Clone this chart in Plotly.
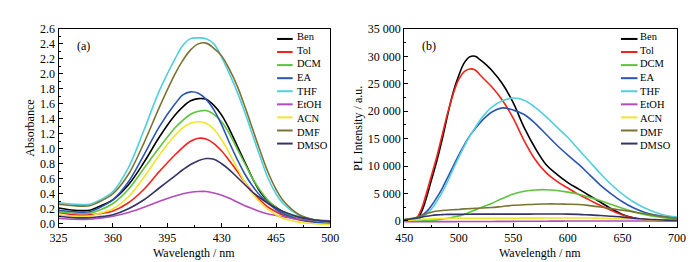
import plotly.graph_objects as go

# ---------------- Panel (a): absorbance ----------------
wl_a = [325, 335, 345, 350, 360, 370, 380, 390, 400, 405, 410, 415, 420, 425,
        430, 435, 440, 445, 450, 455, 460, 465, 470, 480, 490, 500]

abs_ben  = [0.21, 0.18, 0.18, 0.22, 0.32, 0.52, 0.82, 1.16, 1.45, 1.56, 1.64, 1.67, 1.66, 1.58,
            1.45, 1.26, 1.04, 0.82, 0.60, 0.42, 0.30, 0.22, 0.15, 0.08, 0.04, 0.02]
abs_tol  = [0.15, 0.12, 0.12, 0.13, 0.17, 0.28, 0.46, 0.70, 0.92, 1.02, 1.10, 1.14, 1.13, 1.07,
            0.97, 0.84, 0.70, 0.55, 0.42, 0.31, 0.22, 0.16, 0.11, 0.05, 0.02, 0.01]
abs_dcm  = [0.16, 0.14, 0.14, 0.17, 0.27, 0.46, 0.74, 1.02, 1.28, 1.38, 1.46, 1.50, 1.51, 1.46,
            1.36, 1.20, 1.00, 0.80, 0.60, 0.44, 0.31, 0.22, 0.15, 0.07, 0.03, 0.01]
abs_ea   = [0.18, 0.16, 0.16, 0.20, 0.32, 0.56, 0.92, 1.30, 1.60, 1.72, 1.76, 1.74, 1.66, 1.52,
            1.32, 1.08, 0.86, 0.66, 0.50, 0.37, 0.27, 0.19, 0.13, 0.06, 0.02, 0.01]
abs_thf  = [0.28, 0.26, 0.26, 0.30, 0.43, 0.75, 1.25, 1.78, 2.20, 2.38, 2.47, 2.48, 2.47, 2.40,
            2.22, 2.00, 1.76, 1.48, 1.18, 0.88, 0.60, 0.40, 0.26, 0.11, 0.05, 0.02]
abs_etoh = [0.07, 0.06, 0.06, 0.07, 0.10, 0.15, 0.22, 0.30, 0.37, 0.40, 0.42, 0.43, 0.43, 0.41,
            0.38, 0.34, 0.29, 0.24, 0.20, 0.16, 0.13, 0.11, 0.09, 0.06, 0.05, 0.04]
abs_acn  = [0.12, 0.10, 0.10, 0.13, 0.20, 0.36, 0.62, 0.92, 1.18, 1.28, 1.34, 1.36, 1.34, 1.26,
            1.12, 0.94, 0.74, 0.55, 0.40, 0.28, 0.19, 0.12, 0.07, 0.02, 0.00, -0.01]
abs_dmf  = [0.26, 0.24, 0.24, 0.28, 0.40, 0.66, 1.08, 1.56, 2.00, 2.18, 2.32, 2.40, 2.41, 2.34,
            2.24, 2.06, 1.84, 1.56, 1.26, 0.96, 0.68, 0.46, 0.30, 0.12, 0.05, 0.02]
abs_dmso = [0.10, 0.08, 0.08, 0.09, 0.12, 0.20, 0.32, 0.48, 0.64, 0.72, 0.79, 0.84, 0.87, 0.86,
            0.80, 0.72, 0.62, 0.52, 0.42, 0.34, 0.27, 0.21, 0.16, 0.09, 0.05, 0.03]

# ---------------- Panel (b): PL intensity ----------------
wl_b = [450, 460, 465, 470, 475, 480, 485, 490, 495, 500, 505, 510, 515, 520, 525, 530,
        540, 550, 560, 570, 580, 590, 600, 610, 620, 630, 640, 650, 660, 670, 680, 690, 700]

pl_ben  = [0, 200, 1300, 4000, 7500, 11000, 15000, 19500, 23500, 26500, 28800, 29900, 30000, 29300,
           28500, 27500, 25000, 21500, 17000, 13300, 10300, 8500, 7000, 5800, 4600, 3400, 2200,
           1200, 600, 250, 150, 100, 80]
pl_tol  = [0, 300, 1800, 4800, 8300, 11800, 15800, 19800, 23200, 25800, 27200, 27700, 27500, 26500,
           25500, 24500, 22000, 18700, 14600, 11200, 8800, 7200, 6000, 4800, 3800, 2800, 1900,
           1100, 600, 300, 150, 100, 80]
pl_dcm  = [0, 0, 0, 50, 100, 200, 350, 500, 700, 900, 1200, 1600, 2000, 2400, 2800, 3200,
           4100, 4900, 5400, 5650, 5700, 5550, 5250, 4850, 4300, 3700, 3000, 2300, 1700, 1200,
           800, 550, 400]
pl_ea   = [200, 500, 900, 1600, 2800, 4300, 6000, 8000, 10000, 12000, 13800, 15500, 16800, 18000,
           19000, 19800, 20600, 20200, 19400, 17800, 15800, 13800, 12000, 10300, 8400, 6500, 4900,
           3500, 2400, 1600, 1100, 800, 600]
pl_thf  = [100, 300, 600, 1200, 2200, 3600, 5300, 7300, 9500, 11600, 13600, 15400, 17000, 18500,
           19700, 20700, 21900, 22400, 22000, 20700, 19000, 17100, 15200, 13000, 10800, 8600, 6600,
           4900, 3500, 2400, 1600, 1000, 700]
pl_etoh = [-150, -150, -150, -140, -140, -130, -130, -120, -120, -110, -110, -100, -100, -100,
           -90, -90, -80, -70, -60, -50, -40, -30, -20, -20, -10, -10, 0, 0, 0, 0, 0, 0, 0]
pl_acn  = [100, 200, 300, 350, 400, 430, 450, 460, 470, 480, 480, 480, 480, 480, 480, 480,
           490, 500, 510, 520, 530, 540, 550, 550, 530, 500, 450, 400, 330, 270, 200, 150, 100]
pl_dmf  = [300, 600, 900, 1300, 1600, 1800, 1900, 2000, 2050, 2100, 2200, 2250, 2300, 2350,
           2400, 2450, 2650, 2850, 2950, 3050, 3100, 3100, 3050, 3000, 2800, 2550, 2250, 1950,
           1650, 1350, 1000, 700, 500]
pl_dmso = [200, 450, 650, 850, 1000, 1100, 1150, 1200, 1200, 1200, 1220, 1230, 1250, 1250,
           1250, 1250, 1250, 1250, 1250, 1260, 1270, 1270, 1250, 1200, 1100, 1000, 850, 700,
           500, 350, 250, 150, 100]

solvents = ["Ben", "Tol", "DCM", "EA", "THF", "EtOH", "ACN", "DMF", "DMSO"]
colors = ["#000000", "#f5221c", "#5cc43c", "#2b55b4", "#52cfdc", "#b24cbc", "#f0e42c",
          "#7a7432", "#343468"]

abs_series = [abs_ben, abs_tol, abs_dcm, abs_ea, abs_thf, abs_etoh, abs_acn, abs_dmf, abs_dmso]
pl_series = [pl_ben, pl_tol, pl_dcm, pl_ea, pl_thf, pl_etoh, pl_acn, pl_dmf, pl_dmso]

y_ticks_b = [0, 5000, 10000, 15000, 20000, 25000, 30000, 35000]
y_ticktext_b = ["0", "5 000", "10 000", "15 000", "20 000", "25 000", "30 000", "35 000"]

FONT = "Liberation Serif, Times New Roman, serif"
W, H = 695, 262

fig = go.Figure()
for name, col, ys in zip(solvents, colors, abs_series):
    fig.add_trace(go.Scatter(x=wl_a, y=ys, name=name, mode="lines", line_shape="spline",
                             line=dict(color=col, width=1.6), xaxis="x", yaxis="y",
                             showlegend=False))
for name, col, ys in zip(solvents, colors, pl_series):
    fig.add_trace(go.Scatter(x=wl_b, y=ys, name=name, mode="lines", line_shape="spline",
                             line=dict(color=col, width=1.6), xaxis="x2", yaxis="y2",
                             showlegend=False))

ydom = [1 - 221 / H, 1 - 14.5 / H]
axis_common = dict(showline=True, linecolor="black", linewidth=1.3, mirror=True,
                   ticks="inside", ticklen=4, tickwidth=1, tickcolor="black",
                   showgrid=False, zeroline=False,
                   tickfont=dict(family=FONT, size=12, color="black"))

fig.update_layout(
    width=W, height=H,
    margin=dict(l=0, r=0, t=0, b=0),
    paper_bgcolor="white", plot_bgcolor="white",
    font=dict(family=FONT, size=12, color="black"),
    showlegend=False,
    xaxis=dict(domain=[42.7 / W, 321.7 / W], range=[325, 500],
               tickmode="array", tickvals=[325, 360, 395, 430, 465, 500],
               minor=dict(ticks="inside", ticklen=2, dtick=17.5, tick0=325, tickcolor="black"),
               **axis_common),
    yaxis=dict(domain=ydom, range=[-0.04, 2.6], dtick=0.2, tick0=0, tickformat=".1f",
               minor=dict(ticks="inside", ticklen=2, dtick=0.1, tick0=0, tickcolor="black"),
               anchor="x", **axis_common),
    xaxis2=dict(domain=[397.5 / W, 677.5 / W], range=[450, 700], dtick=50, tick0=450,
                minor=dict(ticks="inside", ticklen=2, dtick=25, tick0=450, tickcolor="black"),
                anchor="y2", **axis_common),
    yaxis2=dict(domain=ydom, range=[-1050, 35000], tickmode="array",
                tickvals=y_ticks_b, ticktext=y_ticktext_b,
                minor=dict(ticks="inside", ticklen=2, dtick=2500, tick0=0, tickcolor="black"),
                anchor="x2", **axis_common),
)

# Compact legends (sample line + one multi-line label block), one per panel
LEG_FS = 10.5
LEG_STEP = LEG_FS * 1.3
legend_boxes = [(267, 283, 285), (620, 637, 638)]
for (lx0, lx1, tx) in legend_boxes:
    for i, col in enumerate(colors):
        yy = 1 - (25 + i * LEG_STEP) / H
        fig.add_shape(type="line", xref="paper", yref="paper", x0=lx0 / W, x1=lx1 / W,
                      y0=yy, y1=yy, line=dict(color=col, width=2))
    ymid = 1 - (25 + 4 * LEG_STEP) / H
    fig.add_annotation(xref="paper", yref="paper", x=tx / W, y=ymid,
                       text="<br>".join(solvents), align="left",
                       showarrow=False, xanchor="left", yanchor="middle",
                       font=dict(family=FONT, size=LEG_FS, color="black"))

annos = [
    dict(text="(a)", x=68 / W, y=1 - 32 / H),
    dict(text="(b)", x=423 / W, y=1 - 32 / H),
    dict(text="Wavelength / nm", x=182 / W, y=1 - 248 / H),
    dict(text="Wavelength / nm", x=537 / W, y=1 - 248 / H),
    dict(text="Absorbance", x=13 / W, y=1 - 118 / H, textangle=-90),
    dict(text="PL Intensity / a.u.", x=350 / W, y=1 - 118 / H, textangle=-90),
]
for a in annos:
    fig.add_annotation(xref="paper", yref="paper", showarrow=False,
                       xanchor="center", yanchor="middle",
                       font=dict(family=FONT, size=12, color="black"), **a)

fig.write_html("out.html")
